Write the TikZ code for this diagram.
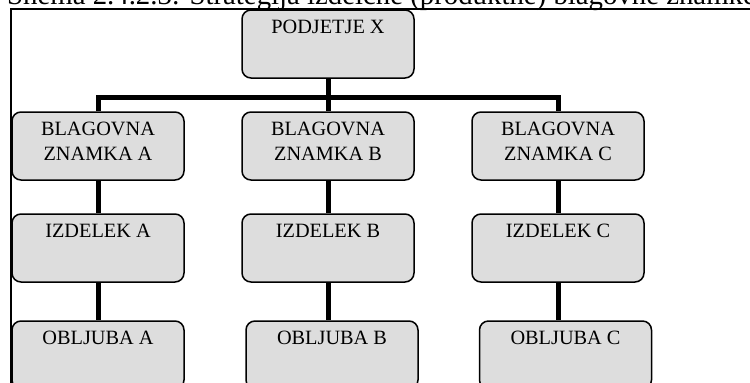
\documentclass[tikz,border=0pt]{standalone}
\usepackage{fontspec}
\setmainfont{Liberation Serif}
\definecolor{boxgray}{RGB}{221,221,221}
\newcommand\boxtext[1]{\parbox[t][68pt][t]{172pt}{\centering\fontsize{20.3}{25}\selectfont\rule{0pt}{23.5pt}#1}}
\begin{document}
\begin{tikzpicture}[x=1pt,y=-1pt,
  box/.style={draw=black,line width=1.5pt,fill=boxgray,rounded corners=9pt,inner sep=0pt},
  conn/.style={line width=5pt,line join=miter},
  frame/.style={line width=1.8pt}]
\useasboundingbox (0,0) rectangle (750,383);
\clip (0,0) rectangle (750,383);
\node[anchor=base west,inner sep=0pt,font=\fontsize{28.8}{34}\selectfont] (cap) at (7,4.5) {Shema 2.4.2.3: Strategija izdelčne (produktne) blagovne znamke};
\draw[frame] (11,9) rectangle (790,430);
% nodes
\node[box] (P)  at (328,44)  {\boxtext{PODJETJE X}};
\node[box] (BA) at (98,146)  {\boxtext{BLAGOVNA\\ZNAMKA A}};
\node[box] (BB) at (328,146) {\boxtext{BLAGOVNA\\ZNAMKA B}};
\node[box] (BC) at (558,146) {\boxtext{BLAGOVNA\\ZNAMKA C}};
\node[box] (IA) at (98,248)  {\boxtext{IZDELEK A}};
\node[box] (IB) at (328,248) {\boxtext{IZDELEK B}};
\node[box] (IC) at (558,248) {\boxtext{IZDELEK C}};
\node[box] (OA) at (98,355)  {\boxtext{OBLJUBA A}};
\node[box] (OB) at (332,355) {\boxtext{OBLJUBA B}};
\node[box] (OC) at (565.5,355) {\boxtext{OBLJUBA C}};
% connectors
\coordinate (j) at (328,97);
\draw[conn] (BA.north) |- (j) -| (BC.north);
\draw[conn] (P.south) -- (BB.north);
\draw[conn] (BA.south) -- (IA.north);
\draw[conn] (BB.south) -- (IB.north);
\draw[conn] (BC.south) -- (IC.north);
\draw[conn] (IA.south) -- (IA.south |- OA.north);
\draw[conn] (IB.south) -- (IB.south |- OB.north);
\draw[conn] (IC.south) -- (IC.south |- OC.north);
\end{tikzpicture}
\end{document}
